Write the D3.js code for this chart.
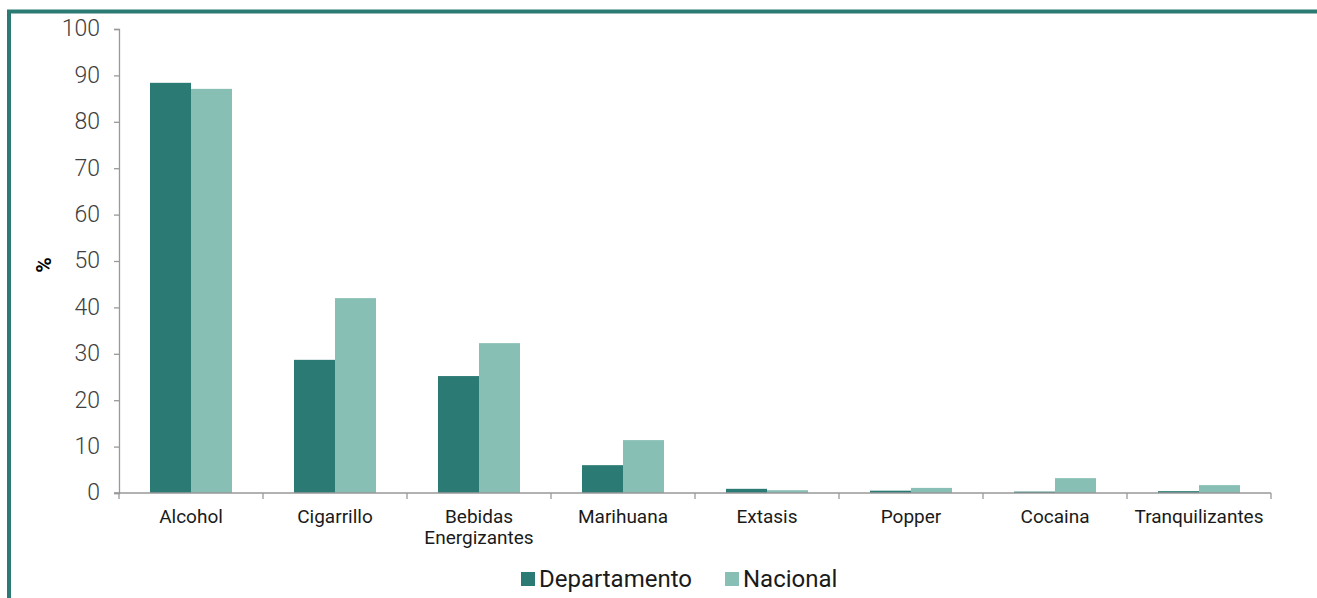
<!DOCTYPE html>
<html><head><meta charset="utf-8">
<script src="https://cdn.jsdelivr.net/npm/d3@7"></script>
<style>body{margin:0;background:#fff;}svg{display:block;}</style>
</head><body>
<svg id="c" width="1317" height="598"></svg>
<script>
const categories = ["Alcohol","Cigarrillo","Bebidas Energizantes","Marihuana","Extasis","Popper","Cocaina","Tranquilizantes"];
const departamento = [88.4, 28.7, 25.2, 6.0, 0.9, 0.5, 0.3, 0.4];
const nacional = [87.1, 42.0, 32.3, 11.4, 0.6, 1.1, 3.2, 1.7];
const yTicks = [0,10,20,30,40,50,60,70,80,90,100];
const seriesNames = ["Departamento","Nacional"];
const colors = ["#2b7a73","#88bfb5"];

const svg = d3.select("#c");
// border
svg.append("path").attr("d","M9,598 V11.5 H1317").attr("fill","none").attr("stroke","#2b7a73").attr("stroke-width",4);

const x = d3.scaleBand().domain(categories).range([119,1271]).paddingInner(0).paddingOuter(0);
const y = d3.scaleLinear().domain([0,100]).range([493,29]);
const x1 = d3.scaleBand().domain(seriesNames).range([0,82]);
const groupOff = (x.bandwidth()-82)/2;

const data = [departamento, nacional];
categories.forEach((c,i)=>{
  data.forEach((s,j)=>{
    svg.append("rect").attr("x",x(c)+groupOff+x1(seriesNames[j])).attr("width",x1.bandwidth())
      .attr("y",y(s[i])).attr("height",y(0)-y(s[i])).attr("fill",colors[j]);
  });
});

// y axis
const ya = svg.append("g").attr("transform","translate(119,0)").call(d3.axisLeft(y).tickValues(yTicks).tickSize(5).tickPadding(14));
ya.selectAll("path,line").attr("stroke","#999").attr("stroke-width",1.3);
ya.selectAll("text").attr("font-family","Roboto").attr("font-weight",300).attr("font-size",23).attr("fill","#404040").attr("dy","0.3em");

// x axis
const xa = svg.append("g").attr("transform","translate(0,493)");
xa.append("line").attr("x1",114).attr("x2",1271).attr("stroke","#999").attr("stroke-width",1.3);
const edges = categories.map(c=>x(c)).concat([x(categories[categories.length-1])+x.bandwidth()]);
edges.forEach(e=>xa.append("line").attr("x1",e).attr("x2",e).attr("y1",0).attr("y2",6).attr("stroke","#999").attr("stroke-width",1.3));
categories.forEach(c=>{
  const t = xa.append("text").attr("x",x(c)+x.bandwidth()/2).attr("y",30).attr("text-anchor","middle")
    .attr("font-family","Roboto").attr("font-size",19).attr("fill","#1a1a1a");
  const parts = c==="Bebidas Energizantes" ? ["Bebidas","Energizantes"] : [c];
  parts.forEach((p,k)=>t.append("tspan").attr("x",x(c)+x.bandwidth()/2).attr("dy",k?20.5:0).text(p));
});

// y label
svg.append("text").attr("transform","translate(51,265) rotate(-90)").attr("text-anchor","middle")
  .attr("font-family","Roboto").attr("font-weight",700).attr("font-size",21).attr("fill","#000").text("%");

// legend
const legX = [521, 725];
seriesNames.forEach((n,j)=>{
  svg.append("rect").attr("x",legX[j]).attr("y",572).attr("width",14).attr("height",14).attr("fill",colors[j]);
  svg.append("text").attr("x",legX[j]+18).attr("y",587).attr("font-family","Roboto").attr("font-size",24).attr("fill","#1a1a1a").text(n);
});
</script>
</body></html>
